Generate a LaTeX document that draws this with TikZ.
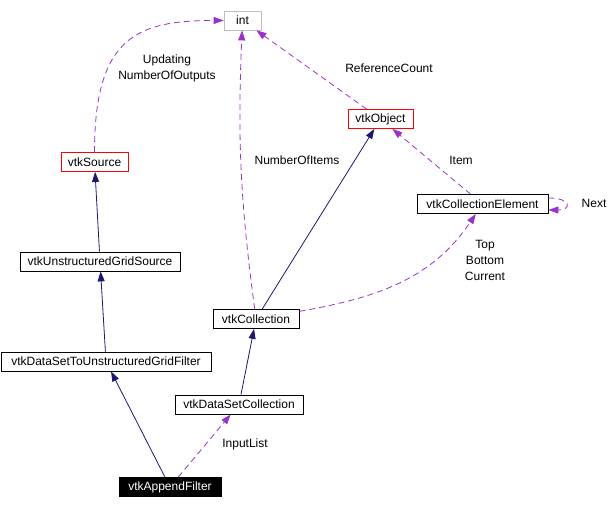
\documentclass[tikz,border=0pt]{standalone}
\usepackage{fontspec}
\setmainfont{Liberation Sans}
\usetikzlibrary{arrows.meta}

\definecolor{inhcol}{RGB}{25,25,112}
\definecolor{usecol}{RGB}{153,50,204}
\definecolor{intgray}{RGB}{191,191,191}

\begin{document}
\begin{tikzpicture}[x=1pt, y=1pt]
			\tikzset{class/.style={shape = rectangle, draw, line width = 0.8pt, minimum height = 19pt, inner sep = 0pt, font = \fontsize{12}{16}\selectfont}}
			\tikzset{lbl/.style={align = center, inner sep = 0pt, font = \fontsize{12}{16}\selectfont}}
			\tikzset{inherit/.style={->, > = {Triangle[length = 10pt, width = 7pt]}, draw = inhcol, line width = 0.8pt}}
			\tikzset{uses/.style={->, > = {Triangle[length = 10pt, width = 7pt]}, draw = usecol, line width = 0.8pt, dash pattern = on 6pt off 4pt}}
			\useasboundingbox (0, 0) rectangle (613, 509);
			%vertices
			\node[class, draw = intgray, minimum width = 37pt] (int) at (242.5, 488.5) {int};
			\node[class, draw = red, minimum width = 67pt] (vtkSource) at (94.5, 347) {vtkSource};
			\node[class, draw = red, minimum width = 65pt] (vtkObject) at (380.5, 390) {vtkObject};
			\node[class, minimum width = 131pt] (vtkCollectionElement) at (482.5, 305) {vtkCollectionElement};
			\node[class, minimum width = 160pt] (vtkUnstructuredGridSource) at (100, 247.5) {vtkUnstructuredGridSource};
			\node[class, minimum width = 86pt] (vtkCollection) at (256, 190) {vtkCollection};
			\node[class, minimum width = 210pt] (vtkDataSetToUnstructuredGridFilter) at (106, 147.5) {vtkDataSetToUnstructuredGridFilter};
			\node[class, minimum width = 128pt] (vtkDataSetCollection) at (239, 104.5) {vtkDataSetCollection};
			\node[class, fill = black, text = white, minimum width = 102pt] (vtkAppendFilter) at (170, 22) {vtkAppendFilter};
			%labels
			\node[lbl] (lblUpdating) at (167, 441) {Updating\\NumberOfOutputs};
			\node[lbl] (lblNumberOfItems) at (297, 349) {NumberOfItems};
			\node[lbl] (lblReferenceCount) at (389, 441) {ReferenceCount};
			\node[lbl] (lblItem) at (461, 349) {Item};
			\node[lbl] (lblNext) at (594, 306) {Next};
			\node[lbl] (lblTop) at (485, 249) {Top\\Bottom\\Current};
			\node[lbl] (lblInputList) at (245, 65) {InputList};
			%edges
			\draw[inherit] (vtkUnstructuredGridSource) -- (vtkSource);
			\draw[inherit] (vtkDataSetToUnstructuredGridFilter) -- (vtkUnstructuredGridSource);
			\draw[inherit] (vtkAppendFilter) -- (vtkDataSetToUnstructuredGridFilter);
			\draw[inherit] (vtkDataSetCollection) -- (vtkCollection);
			\draw[inherit] (vtkCollection) -- (vtkObject);
			\draw[uses] (vtkAppendFilter) -- (vtkDataSetCollection);
			\draw[uses] (vtkSource) to[out = 90, in = 180, out looseness = 1.6, in looseness = 1.2] (int);
			\draw[uses] (vtkCollection) to[bend left = 5] (int);
			\draw[uses] (vtkObject) -- (int);
			\draw[uses] (vtkCollectionElement) -- (vtkObject);
			\draw[uses] (vtkCollection) to[out = 10, in = -124] (vtkCollectionElement);
			\draw[uses] ([yshift = 6pt]vtkCollectionElement.east) to[out = 0, in = 0, looseness = 5] ([yshift = -6pt]vtkCollectionElement.east);
		\end{tikzpicture}
\end{document}
